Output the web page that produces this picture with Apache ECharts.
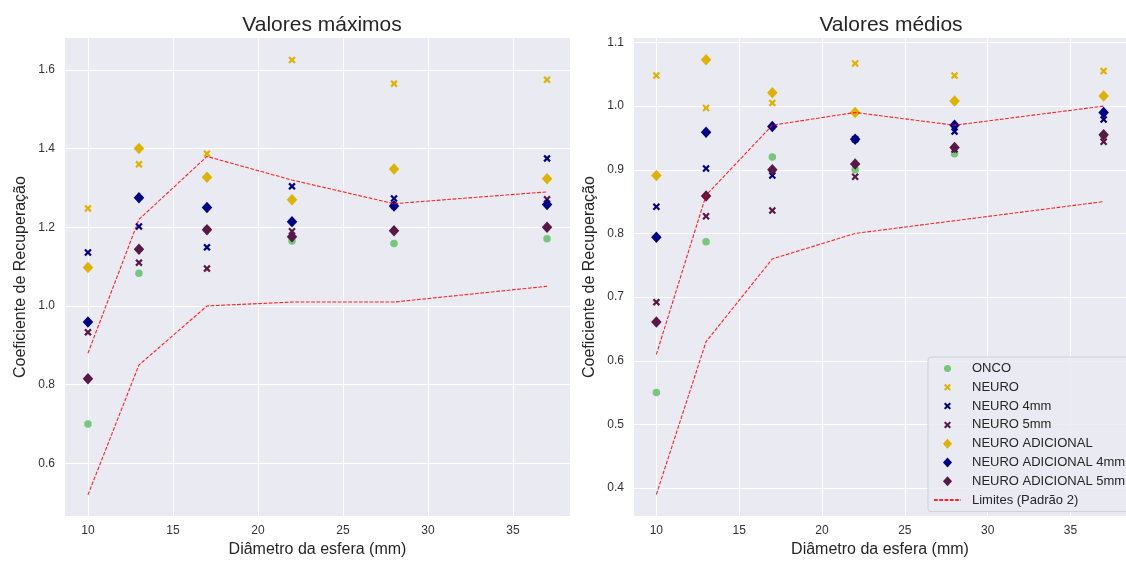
<!DOCTYPE html>
<html>
<head>
<meta charset="utf-8">
<script src="https://cdn.jsdelivr.net/npm/echarts@6/dist/echarts.min.js"></script>
<style>
html,body{margin:0;padding:0;background:#fff;}
#chart{width:1126px;height:563px;}
</style>
</head>
<body>
<div id="chart"></div>
<script>
// ---- data ----
var diameters = [10, 13, 17, 22, 28, 37];
var xTicks = [10, 15, 20, 25, 30, 35];
var yTicksMax = [0.6, 0.8, 1.0, 1.2, 1.4, 1.6];
var yTicksMean = [0.4, 0.5, 0.6, 0.7, 0.8, 0.9, 1.0, 1.1];

// Valores máximos
var oncoMax   = [0.700, 1.083, 1.195, 1.165, 1.159, 1.171];
var neuroMax  = [1.248, 1.360, 1.387, 1.625, 1.565, 1.575];
var neuro4Max = [1.136, 1.202, 1.149, 1.304, 1.273, 1.375];
var neuro5Max = [0.933, 1.110, 1.095, 1.190, 1.255, 1.271];
var adicMax   = [1.098, 1.400, 1.327, 1.270, 1.348, 1.323];
var adic4Max  = [0.959, 1.275, 1.250, 1.214, 1.254, 1.258];
var adic5Max  = [0.815, 1.144, 1.194, 1.176, 1.191, 1.200];
var limUpMax  = [0.88, 1.22, 1.38, 1.32, 1.26, 1.29];
var limLowMax = [0.52, 0.85, 1.00, 1.01, 1.01, 1.05];

// Valores médios
var oncoMean   = [0.550, 0.787, 0.920, 0.900, 0.925, 0.952];
var neuroMean  = [1.048, 0.997, 1.005, 1.067, 1.048, 1.055];
var neuro4Mean = [0.842, 0.902, 0.891, 0.948, 0.960, 0.979];
var neuro5Mean = [0.692, 0.827, 0.836, 0.889, 0.932, 0.944];
var adicMean   = [0.891, 1.073, 1.021, 0.990, 1.008, 1.016];
var adic4Mean  = [0.794, 0.959, 0.968, 0.948, 0.970, 0.990];
var adic5Mean  = [0.661, 0.859, 0.900, 0.909, 0.935, 0.955];
var limUpMean  = [0.61, 0.86, 0.97, 0.99, 0.97, 1.00];
var limLowMean = [0.39, 0.63, 0.76, 0.80, 0.82, 0.85];

var names = ['ONCO', 'NEURO', 'NEURO 4mm', 'NEURO 5mm', 'NEURO ADICIONAL',
             'NEURO ADICIONAL 4mm', 'NEURO ADICIONAL 5mm', 'Limites (Padrão 2)'];

// ---- styles ----
var C_GREEN = '#78c67a', C_YELLOW = '#dfb200', C_NAVY = '#00008b', C_PURPLE = '#5a1846';
var X_PATH = 'M0,2.1 L2.1,0 L5,2.9 L7.9,0 L10,2.1 L7.1,5 L10,7.9 L7.9,10 L5,7.1 L2.1,10 L0,7.9 L2.9,5 Z';
var X_SYM = 'path://' + X_PATH;
var PAD = 'M-2.1,-2.1 L-2.1,-2.1 M12.1,12.1 L12.1,12.1 ';
var X_ICON = 'path://' + PAD + X_PATH;
var C_ICON = 'path://' + PAD + 'M0,5 A5,5 0 1,0 10,5 A5,5 0 1,0 0,5 Z';
var D_ICON = 'path://M5,0 L10,5.5 L5,11 L0,5.5 Z';
var FONT = 'Liberation Sans, Arial, sans-serif';
var TXT = '#262626';

function pairs(vals) { return diameters.map(function (d, i) { return [d, vals[i]]; }); }

var kinds = [
  {symbol: 'circle', size: 7.5, color: C_GREEN, icon: C_ICON},
  {symbol: X_SYM, size: 7.5, color: C_YELLOW, icon: X_ICON},
  {symbol: X_SYM, size: 7.5, color: C_NAVY, icon: X_ICON},
  {symbol: X_SYM, size: 7.5, color: C_PURPLE, icon: X_ICON},
  {symbol: 'diamond', size: [10.5, 11.5], color: C_YELLOW, icon: D_ICON},
  {symbol: 'diamond', size: [10.5, 11.5], color: C_NAVY, icon: D_ICON},
  {symbol: 'diamond', size: [10.5, 11.5], color: C_PURPLE, icon: D_ICON}
];

var groups = [
  {scatter: [oncoMax, neuroMax, neuro4Max, neuro5Max, adicMax, adic4Max, adic5Max], lims: [limUpMax, limLowMax]},
  {scatter: [oncoMean, neuroMean, neuro4Mean, neuro5Mean, adicMean, adic4Mean, adic5Mean], lims: [limUpMean, limLowMean]}
];

var series = [];
groups.forEach(function (g, gi) {
  g.scatter.forEach(function (vals, k) {
    series.push({
      type: 'scatter', name: names[k], xAxisIndex: gi, yAxisIndex: gi,
      data: pairs(vals), symbol: kinds[k].symbol, symbolSize: kinds[k].size,
      itemStyle: {color: kinds[k].color, opacity: 1}, z: 2 + k
    });
  });
  g.lims.forEach(function (vals) {
    series.push({
      type: 'line', name: names[7], xAxisIndex: gi, yAxisIndex: gi,
      data: pairs(vals), symbol: 'none', showSymbol: false,
      lineStyle: {color: 'rgba(255,0,0,0.85)', width: 1.1, type: [3.7, 1.6]},
      itemStyle: {color: 'rgba(255,0,0,0.85)'}, z: 10
    });
  });
});

var legendData = names.map(function (n, k) {
  if (k < 7) return {name: n, icon: kinds[k].icon};
  return {name: n, itemStyle: {color: 'rgba(0,0,0,0)', borderWidth: 0, opacity: 0}};
});

function xAxis(gi) {
  return {
    type: 'value', gridIndex: gi, min: 8.65, max: 38.35,
    name: 'Diâmetro da esfera (mm)', nameLocation: 'middle', nameGap: 24,
    nameTextStyle: {fontFamily: FONT, fontSize: 16, color: TXT},
    axisLine: {show: false}, axisTick: {show: false, customValues: xTicks},
    axisLabel: {customValues: xTicks, fontFamily: FONT, fontSize: 12, color: '#333', margin: 9},
    splitLine: {show: true, lineStyle: {color: '#ffffff', width: 1}}
  };
}
function yAxis(gi, mn, mx, ticks) {
  return {
    type: 'value', gridIndex: gi, min: mn, max: mx,
    name: 'Coeficiente de Recuperação', nameLocation: 'middle', nameGap: 36,
    nameTextStyle: {fontFamily: FONT, fontSize: 16, color: TXT},
    axisLine: {show: false}, axisTick: {show: false, customValues: ticks},
    axisLabel: {customValues: ticks, fontFamily: FONT, fontSize: 12, color: '#333', margin: 10,
                formatter: function (v) { return v.toFixed(1); }},
    splitLine: {show: true, lineStyle: {color: '#ffffff', width: 1}}
  };
}

var chart = echarts.init(document.getElementById('chart'), null, {renderer: 'canvas'});
chart.setOption({
  backgroundColor: '#ffffff',
  animation: false,
  title: [
    {text: 'Valores máximos', left: 317, top: 10, textAlign: 'center',
     textStyle: {fontFamily: FONT, fontSize: 21, fontWeight: 'normal', color: TXT}},
    {text: 'Valores médios', left: 886, top: 10, textAlign: 'center',
     textStyle: {fontFamily: FONT, fontSize: 21, fontWeight: 'normal', color: TXT}}
  ],
  grid: [
    {left: 65, top: 38, width: 505, height: 480, show: true, backgroundColor: '#eaeaf2', borderWidth: 0},
    {left: 634, top: 38, width: 505, height: 480, show: true, backgroundColor: '#eaeaf2', borderWidth: 0}
  ],
  xAxis: [xAxis(0), xAxis(1)],
  yAxis: [yAxis(0, 0.466, 1.681, yTicksMax), yAxis(1, 0.356, 1.107, yTicksMean)],
  legend: {
    data: legendData, orient: 'vertical', left: 928, top: 357,
    padding: [5, 20, 5, 5], itemGap: 5.8, itemWidth: 27, itemHeight: 10,
    symbolKeepAspect: true,
    backgroundColor: 'rgba(234,234,242,0.85)', borderColor: '#cfcfd6', borderWidth: 1, borderRadius: 3,
    textStyle: {fontFamily: FONT, fontSize: 13, color: TXT, padding: [0, 0, 0, 6]}
  },
  series: series
});
</script>
</body>
</html>
